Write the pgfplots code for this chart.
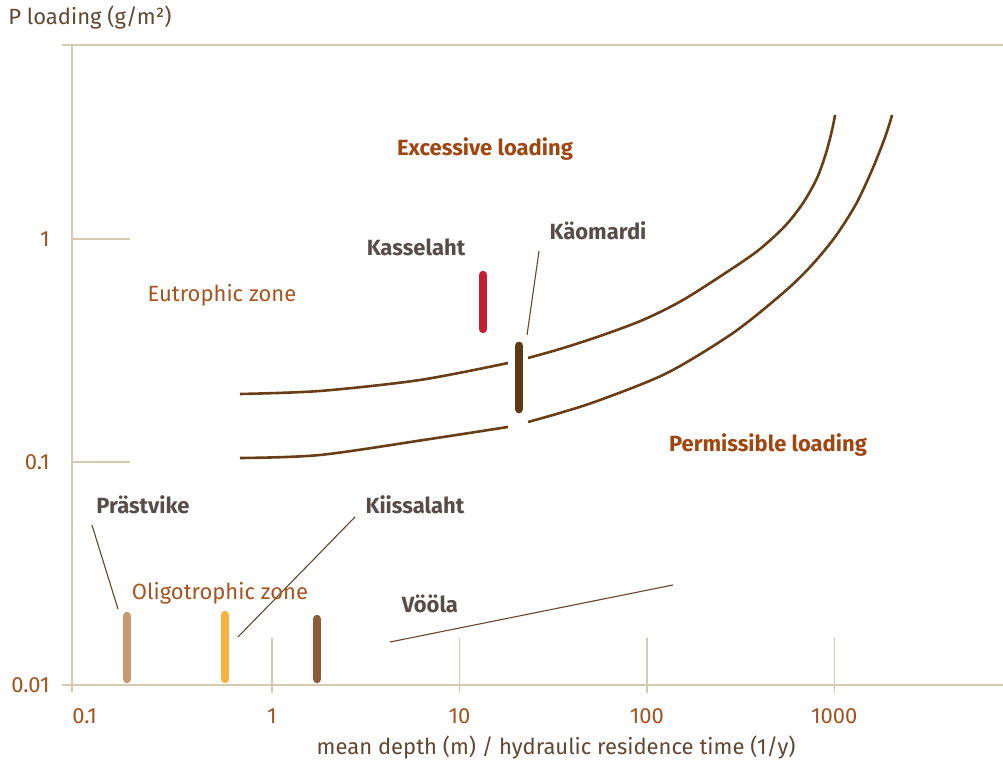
\documentclass[border=0pt]{standalone}
\usepackage{fontspec}
\setmainfont{Fira Sans}
\usepackage{pgfplots}
\pgfplotsset{compat=1.18}
\definecolor{axisc}{RGB}{214,201,178}
\definecolor{curvec}{RGB}{104,62,22}
\definecolor{leadc}{RGB}{100,70,42}
\definecolor{tickc}{RGB}{164,82,28}
\definecolor{zonec}{RGB}{168,82,30}
\definecolor{loadc}{RGB}{160,70,16}
\definecolor{lakec}{RGB}{88,76,72}
\definecolor{titlec}{RGB}{98,70,48}
\definecolor{kasselaht}{RGB}{196,30,50}
\definecolor{kaomardi}{RGB}{96,56,18}
\definecolor{prastvike}{RGB}{196,154,110}
\definecolor{kiissalaht}{RGB}{252,176,64}
\definecolor{voola}{RGB}{140,92,58}
\newcommand\lblfont{\fontsize{11}{13}\selectfont}

\begin{document}
\begin{tikzpicture}
\begin{axis}[
  name=ax,
  scale only axis, width=465.5pt, height=320pt,
  xmode=log, ymode=log,
  xmin=0.0857, xmax=7950, ymin=0.01, ymax=7.41,
  axis line style={draw=none},
  major tick length=0pt, minor tick length=0pt,
  xtick pos=bottom, ytick pos=left,
  xtick={0.1,1,10,100,1000}, xticklabels={0.1,1,10,100,1000},
  ytick={0.01,0.1,1}, yticklabels={0.01,0.1,1},
  /pgf/number format/assume math mode=true,
  tick label style={font=\lblfont, text=tickc},
  xticklabel style={inner sep=0pt, anchor=north, yshift=-11.5pt},
  yticklabel style={inner sep=0pt, anchor=east, xshift=-11pt},
  clip=false,
]
% axis frame lines
\draw[axisc, line width=0.9pt] ([xshift=-5pt]rel axis cs:0,0) -- (rel axis cs:1,0);
\draw[axisc, line width=0.9pt] ([xshift=-5pt]rel axis cs:0,1) -- (rel axis cs:1,1);
\draw[axisc, line width=0.9pt] ([yshift=-3.5pt]rel axis cs:0,0) -- (rel axis cs:0,1);
% tick lines
\draw[axisc, line width=0.7pt] ([yshift=-4pt]axis cs:1,0.01) -- ([yshift=23.5pt]axis cs:1,0.01);
\draw[axisc, line width=0.7pt] ([yshift=-4pt]axis cs:10,0.01) -- ([yshift=23.5pt]axis cs:10,0.01);
\draw[axisc, line width=0.7pt] ([yshift=-4pt]axis cs:100,0.01) -- ([yshift=23.5pt]axis cs:100,0.01);
\draw[axisc, line width=0.7pt] ([yshift=-4pt]axis cs:1000,0.01) -- ([yshift=23.5pt]axis cs:1000,0.01);
\draw[axisc, line width=0.7pt] (axis cs:0.0857,0.1) -- ([xshift=29pt]axis cs:0.0857,0.1);
\draw[axisc, line width=0.7pt] (axis cs:0.0857,1) -- ([xshift=29pt]axis cs:0.0857,1);

% loading curves (split at Kaomardi)
\addplot[curvec, line width=1.3pt, smooth] coordinates {
  (0.675,0.2018) (1.804,0.2082) (6.16,0.2332) (18.17,0.2779)};
\addplot[curvec, line width=1.3pt, smooth] coordinates {
  (23.23,0.2927) (34.4,0.3211) (56.3,0.3673) (95.4,0.4335) (156.1,0.5328)
  (288.4,0.7413) (401.8,0.9020) (546.4,1.144) (681.6,1.450) (809.6,1.877)
  (904.2,2.431) (973.4,3.082) (1010,3.598)};
\addplot[curvec, line width=1.3pt, smooth] coordinates {
  (0.675,0.1042) (1.804,0.1075) (6.97,0.1268) (18.17,0.1436)};
\addplot[curvec, line width=1.3pt, smooth] coordinates {
  (23.23,0.1512) (34.4,0.1659) (56.3,0.1897) (128.2,0.2506) (288.4,0.3789)
  (533.1,0.5727) (742.9,0.7488) (1010,1.021) (1307,1.435) (1591,2.039)
  (1844,2.779) (1985,3.347) (2034,3.598)};

% leader lines
\addplot[leadc, line width=0.55pt] coordinates {(26.6,0.8836) (22.95,0.3710)};
\addplot[leadc, line width=0.55pt] coordinates {(0.1095,0.05218) (0.1508,0.02192)};
\addplot[leadc, line width=0.55pt] coordinates {(2.773,0.05668) (0.6585,0.01642)};
\addplot[leadc, line width=0.55pt] coordinates {(4.263,0.01559) (138.0,0.02809)};

% lake bars
\addplot[kasselaht, line width=4.2pt, line cap=round] coordinates {(13.36,0.3948) (13.36,0.6897)};
\addplot[kaomardi, line width=4.4pt, line cap=round] coordinates {(20.80,0.1729) (20.80,0.3313)};
\addplot[prastvike, line width=4.2pt, line cap=round] coordinates {(0.1684,0.01064) (0.1684,0.02039)};
\addplot[kiissalaht, line width=4.2pt, line cap=round] coordinates {(0.5613,0.01064) (0.5613,0.0206)};
\addplot[voola, line width=4.2pt, line cap=round] coordinates {(1.739,0.01064) (1.739,0.01977)};

% labels
\node[font=\lblfont\bfseries, text=loadc] at (rel axis cs:0.4436,0.8375) {Excessive loading};
\node[font=\lblfont\bfseries, text=loadc] at (rel axis cs:0.7476,0.375) {Permissible loading};
\node[font=\lblfont, text=zonec] at (rel axis cs:0.1611,0.6094) {Eutrophic zone};
\node[font=\lblfont, text=zonec] at (rel axis cs:0.159,0.1438) {Oligotrophic zone};
\node[font=\lblfont\bfseries, text=lakec] at (rel axis cs:0.3695,0.6844) {Kasselaht};
\node[font=\lblfont\bfseries, text=lakec] at (rel axis cs:0.565,0.7094) {Käomardi};
\node[font=\lblfont\bfseries, text=lakec] at (rel axis cs:0.0763,0.2813) {Prästvike};
\node[font=\lblfont\bfseries, text=lakec] at (rel axis cs:0.3684,0.2813) {Kiissalaht};
\node[font=\lblfont\bfseries, text=lakec] at (rel axis cs:0.3845,0.1266) {Vööla};
\node[font=\lblfont, text=titlec, anchor=west, inner sep=0pt] at ([xshift=-32pt,yshift=13.5pt]rel axis cs:0,1) {P loading (g/m²)};
\node[font=\lblfont, text=titlec, inner sep=0pt] at ([yshift=-31.5pt]rel axis cs:0.52,0) {mean depth (m) / hydraulic residence time (1/y)};
\end{axis}
\pgfresetboundingbox
\path[use as bounding box] ([xshift=-36pt,yshift=-41pt]ax.south west) rectangle ([yshift=22.5pt]ax.north east);
\end{tikzpicture}
\end{document}
